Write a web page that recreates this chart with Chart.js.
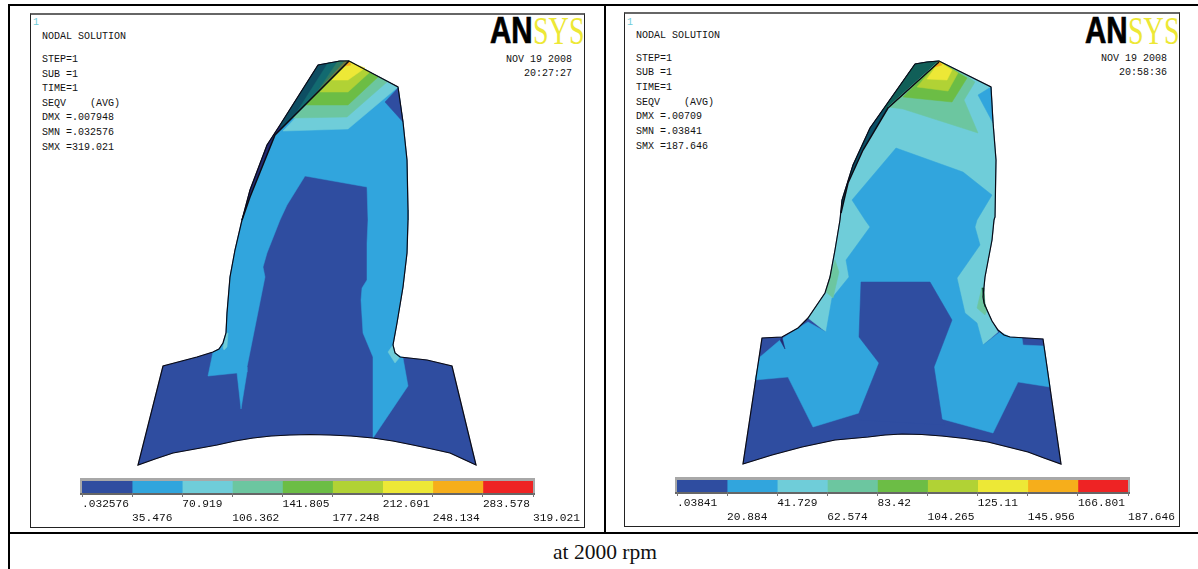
<!DOCTYPE html>
<html><head><meta charset="utf-8">
<script src="https://cdn.jsdelivr.net/npm/chart.js@4/dist/chart.umd.min.js"></script>
<style>
html,body{margin:0;padding:0;background:#fff;width:1198px;height:569px;overflow:hidden}
canvas{position:absolute;display:block}
.l{position:absolute;background:#000}
.p{position:absolute;box-sizing:border-box;border:1px solid #222;border-top:2px solid #666}
.t{position:absolute;font:10px/12px "Liberation Mono",monospace;color:#111;white-space:pre;transform:translateY(-4px)}
.f{position:absolute;background:#a8a8a8;border-bottom:2px solid #666;box-sizing:border-box}
.logo{position:absolute;white-space:pre;transform-origin:0 0;line-height:1}
#cap{position:absolute;left:0;width:1210px;top:540px;text-align:center;font:21.5px/24px "Liberation Serif",serif;color:#111}
</style></head><body>
<div class="l" style="left:8px;top:4px;width:2px;height:565px"></div>
<div class="l" style="left:8px;top:4px;width:1190px;height:2px"></div>
<div class="l" style="left:604px;top:4px;width:2px;height:528px"></div>
<div class="l" style="left:8px;top:532px;width:1190px;height:2px"></div>
<div class="p" style="left:30px;top:13px;width:555px;height:515px"></div>
<div class="p" style="left:624px;top:12px;width:556px;height:515px"></div>
<div id="text"></div>
<div id="cap">at 2000 rpm</div>
<canvas id="main" width="1198" height="569" style="left:0;top:0"></canvas>
<script>
const colors = ['#2F4DA0','#31A5DD','#6FCDD9','#6CC6A0','#6CBD45','#B1D235','#EDE836','#F6AE1B','#EE2324'];
const levelsA = [0.032576,35.476,70.919,106.362,141.805,177.248,212.691,248.134,283.578,319.021];
const labelsA = ['.032576','35.476','70.919','106.362','141.805','177.248','212.691','248.134','283.578','319.021'];
const levelsB = [0.03841,20.884,41.729,62.574,83.42,104.265,125.11,145.956,166.801,187.646];
const labelsB = ['.03841','20.884','41.729','62.574','83.42','104.265','125.11','145.956','166.801','187.646'];
const infoA = ['NODAL SOLUTION','STEP=1','SUB =1','TIME=1','SEQV    (AVG)','DMX =.007948','SMN =.032576','SMX =319.021'];
const infoB = ['NODAL SOLUTION','STEP=1','SUB =1','TIME=1','SEQV    (AVG)','DMX =.00709','SMN =.03841','SMX =187.646'];
const stampA = ['NOV 19 2008','20:27:27'];
const stampB = ['NOV 19 2008','20:58:36'];

// Left tooth contour regions (plot units)
const toothA = [[349,61],[398,87],[403,122],[407,160],[408,210],[408,220],[407,253],[403,287],[397,323],[393,345],[395,353],[400,357],[427,360],[452,366],[476,465],[463,459],[450,453],[432,449],[413,445],[393,441],[373,438],[351,436],[330,435],[310,434.5],[290,435],[271,436],[253,438],[235,441],[217,445],[195,449],[173,453],[155,459],[138,465],[163,366],[197,357],[213,352],[219,349],[223,343],[226,333],[227,313],[230,277],[235,250],[242,220],[250,190],[267,145],[280,125],[318,65],[340,61]];
const inkA = [[349,61],[275,135],[250,197],[242,220]];
const wedgeNavyA = [[242,220],[250,190],[267,145],[280,125],[284,131],[275,135],[250,197]];
const wedge1A = [[280,125],[318,65],[340,61],[349,61],[283,131]];
const wedge2A = [[328,63],[349,61],[283,131],[295,115]];
const wedge3A = [[338,61],[349,61],[295,118],[302,115]];
const wedge4A = [[345,61],[349,61],[318,93],[310,100]];
const blueA = [[349,61],[398,87],[403,122],[407,160],[408,210],[408,220],[407,253],[403,287],[397,323],[393,345],[395,353],[403,358],[408,386],[373,438],[373,357],[363,333],[361,300],[362,288],[367,280],[367,243],[368,220],[367,187],[305,176],[287,205],[280,220],[267,253],[263,267],[265,277],[257,317],[247,367],[247,372],[241,409],[237,373],[208,376],[213,352],[219,349],[223,343],[226,333],[227,313],[230,277],[235,250],[242,220],[250,197],[275,135]];
const cyanA = [[349,61],[283,131],[348,129],[398,87]];
const seaA = [[349,61],[293,118],[347,117],[387,82]];
const greenA = [[349,61],[305,105],[348,105],[378,77]];
const limeA = [[349,61],[320,92],[348,92],[370,72]];
const yellowA = [[349,62],[332,80],[348,80],[365,68]];
const orangeA = [[345,66],[351,65],[349,61]];
const cornerA = [[385,102],[398,88],[403,122]];
const filletA1 = [[223,348],[226,333],[228,333],[227,347],[224,350]];
const filletA2 = [[388,352],[393,345],[395,353],[400,357],[395,363]];

// Right tooth contour regions (plot units)
const toothB = [[939,61],[991,87],[993,122],[996,160],[995,217],[994,220],[992,240],[985,277],[983,297],[984,303],[987,310],[992,321],[998,330],[1004,335],[1010,337],[1043,339],[1061,464],[1044,458],[1028,452],[1008,447],[988,442],[965,438.5],[942,436],[922,434.5],[902,434],[885,435],[868,437],[835,440],[802,447],[772,455],[743,464],[762,338],[782,337],[798,328],[808,318],[825,293],[830,277],[835,250],[840,220],[842,200],[853,165],[870,128],[915,64],[927,62]];
const inkB = [[939,62],[888,108],[863,150],[848,183],[841,213]];
const wedgeLowB = [[939,61],[888,108],[863,150],[848,183],[841,213],[842,200],[853,165],[870,128],[915,64],[927,62]];
const wedgeTopB = [[915,64],[927,62],[939,61],[888,108],[883,110]];
const cyanB = [[939,61],[991,87],[993,122],[996,160],[995,217],[994,220],[992,240],[985,277],[983,297],[984,303],[987,310],[992,321],[998,332],[983,345],[826,332],[808,318],[825,293],[830,277],[835,250],[840,220],[841,213],[848,183],[863,150],[888,108]];
const seaB = [[939,61],[968,77],[975,82],[964,100],[978,133],[903,109],[888,107]];
const greenB = [[939,61],[967,78],[952,102],[903,97]];
const limeB = [[939,61],[958,73],[948,91],[917,87]];
const yellowB = [[939,62],[952,70],[947,80],[927,79]];
const orangeB = [[935,67],[942,65],[939,61]];
const sliverB = [[991,87],[978,95],[993,123]];
const blueB = [[896,148],[963,172],[992,195],[977,220],[975,227],[980,245],[957,278],[965,313],[977,323],[983,345],[1000,332],[1010,337],[1022,338],[1023,345],[1044,346],[1050,387],[1018,382],[993,433],[942,419],[859,413],[813,427],[788,377],[755,380],[760,357],[780,340],[798,328],[808,322],[826,332],[832,298],[849,277],[846,260],[870,227],[865,220],[852,200]];
const centreB = [[861,282],[930,282],[952,320],[934,367],[942,419],[945,425],[859,420],[859,413],[879,363],[859,337]];
const notchB = [[782,337],[785,349],[780,340]];
const flankB1 = [[835,260],[839,272],[833,298],[826,292],[830,277]];
const flankB2 = [[982,287],[977,308],[985,315],[987,310],[983,297]];
const flankB3 = [[982,288],[984,288],[985,307]];

const region = (pts,color) => ({data:pts.concat([pts[0]]).map(p=>({x:p[0],y:p[1]})),showLine:true,fill:'shape',backgroundColor:color,borderColor:color,borderWidth:0.5,pointRadius:0,clip:false});
const ink = (pts,closed,w) => ({data:(closed?pts.concat([pts[0]]):pts).map(p=>({x:p[0],y:p[1]})),showLine:true,fill:false,borderColor:'#0a0a14',borderWidth:w,pointRadius:0,clip:false});

// paint order: later in list paints on top
const layers = [
 region(toothA,colors[0]), region(wedgeNavyA,'#232A72'), region(wedge1A,'#0E4E63'), region(wedge2A,'#126A70'), region(wedge3A,'#2E7A62'), region(wedge4A,'#6A7B40'),
 region(blueA,colors[1]), region(cyanA,colors[2]), region(seaA,colors[3]), region(greenA,colors[4]), region(limeA,colors[5]), region(yellowA,colors[6]), region(orangeA,colors[7]), region(cornerA,colors[0]),
 region(filletA1,colors[2]), region(filletA2,colors[2]), ink(inkA,false,1.5), ink(toothA,true,1.2),
 region(toothB,colors[0]), region(wedgeLowB,'#0A4F66'), region(wedgeTopB,'#105F58'),
 region(cyanB,colors[2]), region(seaB,colors[3]), region(greenB,colors[4]), region(limeB,colors[5]), region(yellowB,colors[6]), region(orangeB,colors[7]), region(sliverB,colors[1]),
 region(blueB,colors[1]), region(centreB,colors[0]), region(notchB,'#232A72'), region(flankB1,colors[3]), region(flankB2,colors[3]), region(flankB3,'#0E5A3A'), ink(inkB,false,1.5), ink(toothB,true,1.2)
];
new Chart(document.getElementById('main'),{type:'scatter',data:{datasets:layers.slice().reverse()},options:{
 responsive:false,animation:false,layout:{padding:0},
 plugins:{legend:{display:false},tooltip:{enabled:false}},
 elements:{line:{tension:0}},
 scales:{x:{type:'linear',min:0,max:1198,display:false},y:{type:'linear',min:0,max:569,reverse:true,display:false}}
}});

function colourBar(levels,labels,left,top,width){
 const frame=document.createElement('div');frame.className='f';
 frame.style.cssText=`left:${left-2}px;top:${top-3}px;width:${width+4}px;height:17px`;document.body.appendChild(frame);
 const c=document.createElement('canvas');const extra=60;
 c.width=width+extra;c.height=60;c.style.left=left+'px';c.style.top=top+'px';document.body.appendChild(c);
 new Chart(c,{type:'bar',data:{labels:[''],datasets:levels.slice(0,-1).map((v,i)=>({data:[[v,levels[i+1]]],backgroundColor:colors[i],barPercentage:1,categoryPercentage:1,grouped:false}))},options:{
  indexAxis:'y',responsive:false,animation:false,layout:{padding:{left:0,right:extra,top:0,bottom:0}},
  plugins:{legend:{display:false},tooltip:{enabled:false}},
  scales:{y:{display:false},x:{type:'linear',min:levels[0],max:levels[levels.length-1],
   afterBuildTicks:s=>{s.ticks=levels.map(v=>({value:v}));},
   afterFit:s=>{s.height=48;s.paddingLeft=0;s.paddingRight=0;},
   grid:{drawOnChartArea:false,drawTicks:true,tickLength:4,color:'#777'},border:{display:false},
   ticks:{autoSkip:false,maxRotation:0,minRotation:0,align:'start',padding:0,color:'#111',font:{family:'"Liberation Mono",monospace',size:11.2,lineHeight:1.28},
    callback:(v,i)=>i%2===0?[labels[i],'']:['',labels[i]]}}}
 }});
}
colourBar(levelsA,labelsA,82,481,451);
colourBar(levelsB,labelsB,677,480,451);

const T=document.getElementById('text');
function put(s,x,y,right,style){const d=document.createElement('div');d.className='t';d.textContent=s;d.style.top=y+'px';
 if(right)d.style.right=(1198-x)+'px';else d.style.left=x+'px';if(style)d.style.cssText+=style;T.appendChild(d);}
const rowsA=[35,58,72.5,87,102,116,131,146], rowsB=[34,57,71,86,101,115,130,145];
infoA.forEach((s,i)=>put(s,42,rowsA[i]));infoB.forEach((s,i)=>put(s,636,rowsB[i]));
stampA.forEach((s,i)=>put(s,572,58+i*14,true));stampB.forEach((s,i)=>put(s,1167,57+i*14,true));
put('1',33,21,false,'color:#6FCDD9');put('1',627,21,false,'color:#6FCDD9');
function logo(x,y){
 const a=document.createElement('div');a.className='logo';a.textContent='AN';
 a.style.cssText=`left:${x}px;top:${y}px;font:bold 36px/36px "Liberation Sans",sans-serif;color:#000;-webkit-text-stroke:.7px #000;transform:scaleX(.82)`;T.appendChild(a);
 const b=document.createElement('div');b.className='logo';b.textContent='SYS';
 b.style.cssText=`left:${x+43}px;top:${y-2}px;font:39px/39px "Liberation Serif",serif;color:#EDE836;transform:scaleX(.72)`;T.appendChild(b);
}
logo(490,13);logo(1085,13);
</script>
</body></html>
